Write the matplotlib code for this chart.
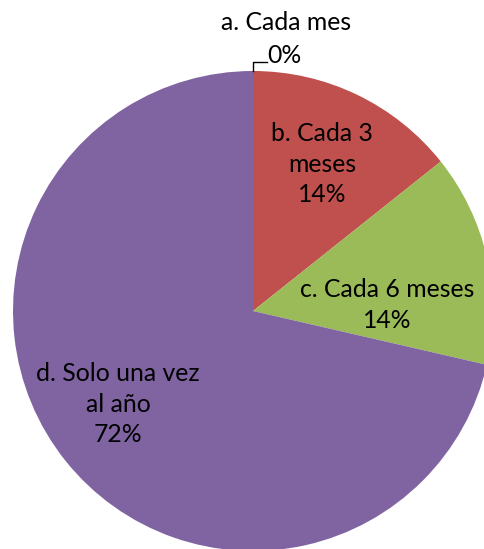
import matplotlib
matplotlib.use("Agg")
import matplotlib.pyplot as plt

# Data
categories = ["a. Cada mes", "b. Cada 3\nmeses", "c. Cada 6 meses", "d. Solo una vez\nal año"]
shares = [0.0, 14.3, 14.3, 71.4]
pct_labels = ["0%", "14%", "14%", "72%"]
colors = ["#4F81BD", "#C0504D", "#9BBB59", "#8064A2"]

plt.rcParams['font.family'] = ['Lato', 'DejaVu Sans']

W, H = 485, 549
fig = plt.figure(figsize=(W / 100, H / 100), dpi=100)
ax = fig.add_axes([0, 0, 1, 1])

cx, cy, r = 253, H - 311, 240
ax.pie(shares, colors=colors, startangle=90, counterclock=False,
       center=(cx, cy), radius=r, wedgeprops=dict(linewidth=0))
ax.set_xlim(0, W)
ax.set_ylim(0, H)
ax.set_aspect('equal')
ax.axis('off')

fs = 17.8
# label positions in pixel coords (from top-left)
pos = [(284, 55), (322, 164), (387, 305), (118, 404)]

# first slice is 0%: category above, leader line to pie edge
ax.text(286, H - 22, categories[0], ha='center', va='center', fontsize=fs)
ax.text(pos[0][0], H - pos[0][1], pct_labels[0], ha='center', va='center', fontsize=fs)
ax.plot([cx, cx, 267], [H - 71, H - 62, H - 62], color='black', lw=1)

for i in range(1, 4):
    x, y = pos[i]
    ax.text(x, H - y, categories[i] + "\n" + pct_labels[i], ha='center', va='center',
            fontsize=fs, linespacing=1.37)

fig.savefig("out.png", dpi=100)
